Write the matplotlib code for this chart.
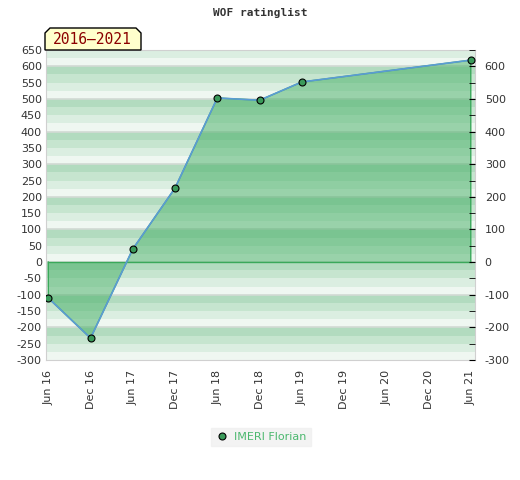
import numpy as np
import matplotlib
matplotlib.use('Agg')
import matplotlib.pyplot as plt
from matplotlib.patches import Polygon

plt.rcParams['axes.unicode_minus'] = False

# months since Jun 2016
months = [0, 6, 12, 18, 24, 30, 36, 60]
ratings = [-110, -233, 40, 227, 503, 496, 552, 619]

tick_months = [0, 6, 12, 18, 24, 30, 36, 42, 48, 54, 60]
tick_labels = ['Jun 16', 'Dec 16', 'Jun 17', 'Dec 17', 'Jun 18', 'Dec 18',
               'Jun 19', 'Dec 19', 'Jun 20', 'Dec 20', 'Jun 21']
player = 'IMERI Florian'
period = '2016\u20132021'

ymin, ymax = -300, 650
band_colors = ['#eff7f1', '#dbeee1', '#c6e5cf', '#b2dbbf']

fig = plt.figure(figsize=(5.2, 4.8), dpi=100)
ax = fig.add_axes([46 / 520, 1 - 360 / 480, 429 / 520, 310 / 480])

# striped background, 25-unit bands repeating every 100
for lo in range(-300, 650, 25):
    idx = (lo % 100) // 25
    ax.axhspan(lo, lo + 25, color=band_colors[idx], lw=0, zorder=0)
for y in range(-200, 650, 100):
    ax.axhline(y, color='#d2dad4', lw=1.2, zorder=0.5)

# area between the rating line and zero
xs = np.array(months, dtype=float)
ys = np.array(ratings, dtype=float)
poly_x = np.concatenate([[xs[0]], xs, [xs[-1]]])
poly_y = np.concatenate([[0], ys, [0]])
ax.fill(poly_x, poly_y, facecolor='#44af64', alpha=0.5, lw=0, zorder=1)
ax.plot(poly_x, poly_y, color='#3aa85a', lw=1, zorder=1.5)
ax.plot([xs[0], xs[-1]], [0, 0], color='#3aa85a', lw=1, zorder=1.5)
ax.plot(xs, ys, color='#5b9bd5', lw=1.2, zorder=2)
ax.plot(xs, ys, ls='none', marker='o', ms=5, mfc='#3a9a5a', mec='black',
        mew=0.8, zorder=3, label=player)

ax.set_xlim(-0.33, 60.6)
ax.set_ylim(ymin, ymax)

ax.set_xticks(tick_months)
ax.set_xticklabels(tick_labels, rotation=90, fontsize=8, color='#333333')
ax.set_yticks(range(-300, 651, 50))
ax.tick_params(axis='x', length=0, pad=7)
ax.tick_params(axis='y', length=0, labelsize=8, labelcolor='#333333', pad=3)

for s in ax.spines.values():
    s.set_color('#d0d0d0')

ax2 = ax.twinx()
ax2.set_ylim(ymin, ymax)
ax2.set_yticks(range(-300, 601, 100))
ax2.set_yticks(range(-250, 651, 100), minor=True)
ax2.tick_params(axis='y', which='both', direction='in', length=4,
                labelsize=8, labelcolor='#333333', pad=7)
for s in ax2.spines.values():
    s.set_visible(False)

fig.text(0.5, 1 - 13 / 480, 'WOF ratinglist', ha='center', va='center',
         family='DejaVu Sans Mono', weight='bold', fontsize=8, color='#333333')

# period label box with cut top corners
l, r, t, b, c = 45, 141, 28, 50, 5
pts = [(l, b), (l, t + c), (l + c, t), (r - c, t), (r, t + c), (r, b)]
pts = [(x / 520, 1 - y / 480) for x, y in pts]
fig.patches.append(Polygon(pts, closed=True, facecolor='#ffffcc',
                           edgecolor='black', lw=1, transform=fig.transFigure))
fig.text(92 / 520, 1 - 40 / 480, period, ha='center', va='center',
         family='DejaVu Sans Mono', fontsize=10.5, color='#8b0000')

leg = fig.legend(loc='center', bbox_to_anchor=(261 / 520, 1 - 437 / 480),
                 frameon=True, fancybox=False, fontsize=8, handletextpad=0.5,
                 borderpad=0.4, handlelength=1.2)
leg.get_frame().set_facecolor('#f0f0f0')
leg.get_frame().set_edgecolor('#f0f0f0')
for txt in leg.get_texts():
    txt.set_color('#4cb86f')

fig.savefig('out.png', dpi=100)
